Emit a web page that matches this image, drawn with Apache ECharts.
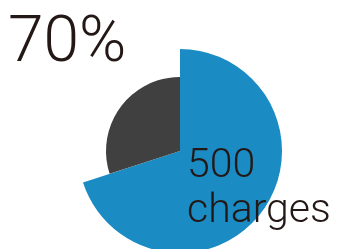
<!DOCTYPE html>
<html>
<head>
<meta charset="utf-8">
<script src="https://cdn.jsdelivr.net/npm/echarts@6/dist/echarts.min.js"></script>
<style>
  html, body { margin: 0; padding: 0; background: #fff; }
  #chart { width: 339px; height: 249px; }
</style>
</head>
<body>
<div id="chart"></div>
<script>
// 数据
var categories = ['charged', 'rest']
var values = [70, 30]
var percentLabel = '70%'
var countLabel = '500\ncharges'

var blue = '#1b8bc4'
var gray = '#404040'
var ink = '#231815'

var myChart = echarts.init(document.getElementById('chart'))

function sliceData(showIndex, color) {
  return categories.map(function (name, i) {
    return {
      name: name,
      value: values[i],
      itemStyle: { color: i === showIndex ? color : 'rgba(0,0,0,0)' }
    }
  })
}

var option = {
  animation: false,
  series: [
    {
      type: 'pie',
      center: [180, 151],
      radius: [0, 102],
      startAngle: 90,
      silent: true,
      label: { show: false },
      labelLine: { show: false },
      data: sliceData(0, blue)
    },
    {
      type: 'pie',
      center: [180, 151],
      radius: [0, 74],
      startAngle: 90,
      silent: true,
      label: { show: false },
      labelLine: { show: false },
      data: sliceData(1, gray)
    }
  ],
  graphic: [
    {
      type: 'text',
      left: 8,
      top: 13,
      z: 10,
      style: {
        text: percentLabel,
        fill: ink,
        font: '300 64px Roboto'
      }
    },
    {
      type: 'text',
      left: 187,
      top: 144,
      z: 10,
      style: {
        text: countLabel,
        fill: ink,
        font: '300 41px Roboto',
        lineHeight: 45
      }
    }
  ]
}
myChart.setOption(option, true)
</script>
</body>
</html>
